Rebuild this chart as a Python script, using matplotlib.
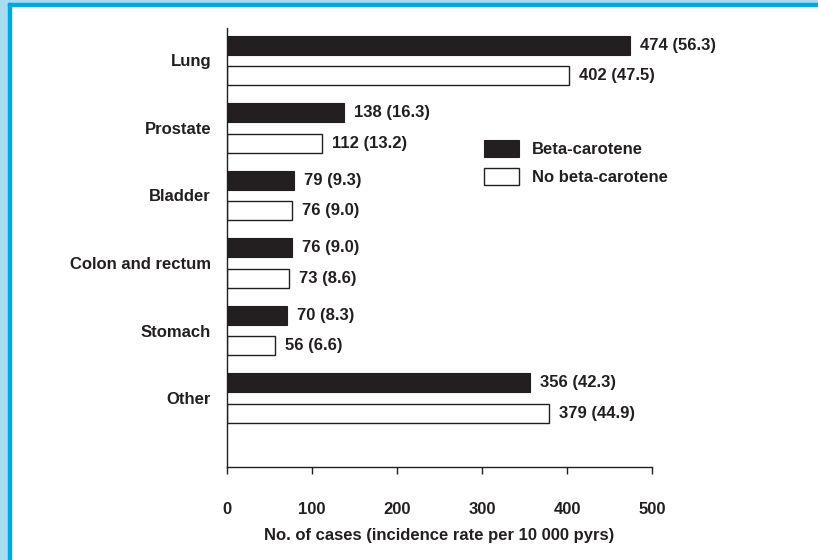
import matplotlib.pyplot as plt
from matplotlib.patches import Rectangle
import numpy as np

plt.rcParams['font.family'] = ['Liberation Sans', 'DejaVu Sans']
plt.rcParams['font.weight'] = 'bold'

# data
sites = ['Lung', 'Prostate', 'Bladder', 'Colon and rectum', 'Stomach', 'Other']
beta_cases = [474, 138, 79, 76, 70, 356]
beta_rate = [56.3, 16.3, 9.3, 9.0, 8.3, 42.3]
nobeta_cases = [402, 112, 76, 73, 56, 379]
nobeta_rate = [47.5, 13.2, 9.0, 8.6, 6.6, 44.9]
xticks = [0, 100, 200, 300, 400, 500]

ink = '#231f20'
fs = 12

fig = plt.figure(figsize=(8.18, 5.6), dpi=100)
ax = fig.add_axes([227/818, 1-467/560, 425/818, 439/560])

# frame round the figure (top and left only)
fig.patches.append(Rectangle((0, 0), 8/818, 1, transform=fig.transFigure, color='#a8dcf0', zorder=0))
fig.patches.append(Rectangle((0, 1-3/560), 1, 3/560, transform=fig.transFigure, color='#a8dcf0', zorder=0))
fig.patches.append(Rectangle((8/818, 0), 3/818, 1-3/560, transform=fig.transFigure, color='#00a8e0', zorder=1))
fig.patches.append(Rectangle((8/818, 1-6/560), 1, 3/560, transform=fig.transFigure, color='#00a8e0', zorder=1))

y = np.arange(len(sites))
h = 0.28
off = 0.225
ax.barh(y - off, beta_cases, height=h, color=ink, edgecolor=ink, linewidth=0.8, label='Beta-carotene')
ax.barh(y + off, nobeta_cases, height=h, color='white', edgecolor=ink, linewidth=1.0, label='No beta-carotene')

for i in range(len(sites)):
    ax.text(beta_cases[i] + 12, y[i] - off, '%d (%.1f)' % (beta_cases[i], beta_rate[i]),
            va='center', ha='left', fontsize=fs, color=ink, fontweight='bold')
    ax.text(nobeta_cases[i] + 12, y[i] + off, '%d (%.1f)' % (nobeta_cases[i], nobeta_rate[i]),
            va='center', ha='left', fontsize=fs, color=ink, fontweight='bold')

ax.set_xlim(0, 500)
ax.set_ylim(5 + 1.02, -0.48)
ax.set_xticks(xticks)
ax.set_xticklabels([str(t) for t in xticks], fontsize=fs, color=ink, fontweight='bold')
ax.set_yticks(y)
ax.set_yticklabels(sites, fontsize=fs, color=ink, fontweight='bold')
ax.tick_params(axis='y', length=0, pad=11.5)
ax.tick_params(axis='x', length=5, width=1, color=ink, pad=20, direction='out')
ax.set_xlabel('No. of cases (incidence rate per 10 000 pyrs)', fontsize=fs, color=ink,
              fontweight='bold', labelpad=8)

for s in ['top', 'right']:
    ax.spines[s].set_visible(False)
for s in ['left', 'bottom']:
    ax.spines[s].set_color(ink)
    ax.spines[s].set_linewidth(1)

fs_px = fs * 100 / 72
leg = ax.legend(loc='upper left', bbox_to_anchor=(484/818, 1-140/560), bbox_transform=fig.transFigure,
                frameon=False, fontsize=fs, borderpad=0, borderaxespad=0,
                handlelength=35/fs_px, handleheight=20/fs_px, labelspacing=(30.5-20)/fs_px,
                handletextpad=13/fs_px)
for t in leg.get_texts():
    t.set_color(ink)
    t.set_fontweight('bold')

fig.savefig('out.png', dpi=100)
